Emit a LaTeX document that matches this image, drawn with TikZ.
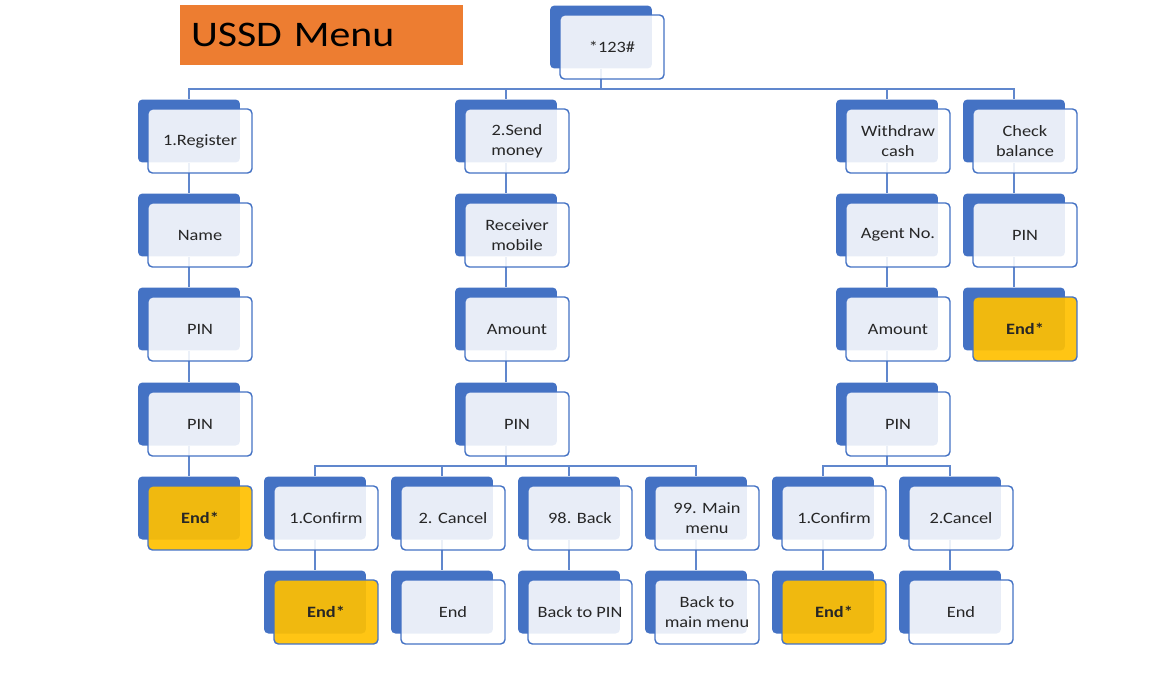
\documentclass[tikz,border=0pt]{standalone}
\usepackage{fontspec}
\setmainfont{Carlito}[FakeStretch=1.16]
\usetikzlibrary{positioning}
\definecolor{ussdblue}{HTML}{4472C4}
\definecolor{ussdorange}{HTML}{ED7D31}
\definecolor{ussdyellow}{HTML}{FFC000}
\definecolor{ussdtext}{HTML}{262626}
\pgfdeclarelayer{bg}
\pgfsetlayers{bg,main}

\tikzset{
  back/.style={fill=ussdblue, rounded corners=2.5pt, minimum width=2.04cm, minimum height=1.26cm,
    xshift=-0.22cm, yshift=0.2cm, inner sep=0pt},
  card/.style={draw=ussdblue, line width=0.8pt, fill=white, fill opacity=0.88, text opacity=1,
    rounded corners=2.5pt, minimum width=2.08cm, minimum height=1.28cm, inner sep=1pt,
    align=center, text=ussdtext, font=\fontsize{9}{11.4}\selectfont},
  endcard/.style={card, fill=ussdyellow, fill opacity=0.92, font=\fontsize{9}{11.4}\selectfont\bfseries},
  link/.style={draw=ussdblue!85, line width=0.8pt},
}

% one SmartArt style box: blue back plate + front card
\newcommand{\ussd}[4][card]{%
  \node[back] (b#2) at (#3) {};
  \node[#1] (#2) at (#3) {#4};}

\begin{document}
\begin{tikzpicture}[x=0.02cm, y=-0.02cm]
  \useasboundingbox (0,0) rectangle (1161,673);

  \node[fill=ussdorange, minimum width=5.66cm, minimum height=1.2cm, text width=5.22cm,
    inner xsep=0.22cm, align=left, font=\fontsize{20.5}{24}\selectfont] (title) at (321.5,35) {USSD Menu};

  \ussd{top}{612,47}{*123\#}

  % register
  \ussd{reg}{200,141}{1.Register}
  \ussd{name}{200,235}{Name}
  \ussd{rpin}{200,329}{PIN}
  \ussd{rpinb}{200,424}{PIN}
  \ussd[endcard]{rend}{200,518}{End*}

  % send money
  \ussd{send}{517,141}{2.Send\\money}
  \ussd{recv}{517,235}{Receiver\\mobile}
  \ussd{samt}{517,329}{Amount}
  \ussd{spin}{517,424}{PIN}
  \ussd{sconf}{326,518}{1.Confirm}
  \ussd{scanc}{453,518}{2. Cancel}
  \ussd{sback}{580,518}{98. Back}
  \ussd{smain}{707,518}{99. Main\\menu}
  \ussd[endcard]{sendA}{326,612}{End*}
  \ussd{sendB}{453,612}{End}
  \ussd{sbpin}{580,612}{Back to PIN}
  \ussd{sbmain}{707,612}{Back to\\main menu}

  % withdraw
  \ussd{wd}{898,141}{Withdraw\\cash}
  \ussd{agent}{898,235}{Agent No.}
  \ussd{wamt}{898,329}{Amount}
  \ussd{wpin}{898,424}{PIN}
  \ussd{wconf}{834,518}{1.Confirm}
  \ussd{wcanc}{961,518}{2.Cancel}
  \ussd[endcard]{wendA}{834,612}{End*}
  \ussd{wendB}{961,612}{End}

  % balance
  \ussd{chk}{1025,141}{Check\\balance}
  \ussd{cpin}{1025,235}{PIN}
  \ussd[endcard]{cend}{1025,329}{End*}

  % connectors
  \coordinate (bus1) at (0,89);
  \coordinate (bus2) at (0,466);
  \begin{pgfonlayer}{bg}
    \foreach \c in {reg,send,wd,chk}
      \draw[link] (btop.south) |- (b\c.north |- bus1) -- (b\c.north);
    \foreach \c in {sconf,scanc,sback,smain}
      \draw[link] (bspin.south) |- (b\c.north |- bus2) -- (b\c.north);
    \foreach \c in {wconf,wcanc}
      \draw[link] (bwpin.south) |- (b\c.north |- bus2) -- (b\c.north);
    \foreach \a/\b in {reg/name, name/rpin, rpin/rpinb, rpinb/rend,
        send/recv, recv/samt, samt/spin,
        sconf/sendA, scanc/sendB, sback/sbpin, smain/sbmain,
        wd/agent, agent/wamt, wamt/wpin, wconf/wendA, wcanc/wendB,
        chk/cpin, cpin/cend}
      \draw[link] (b\a.south) -- (b\b.north);
  \end{pgfonlayer}
\end{tikzpicture}
\end{document}
